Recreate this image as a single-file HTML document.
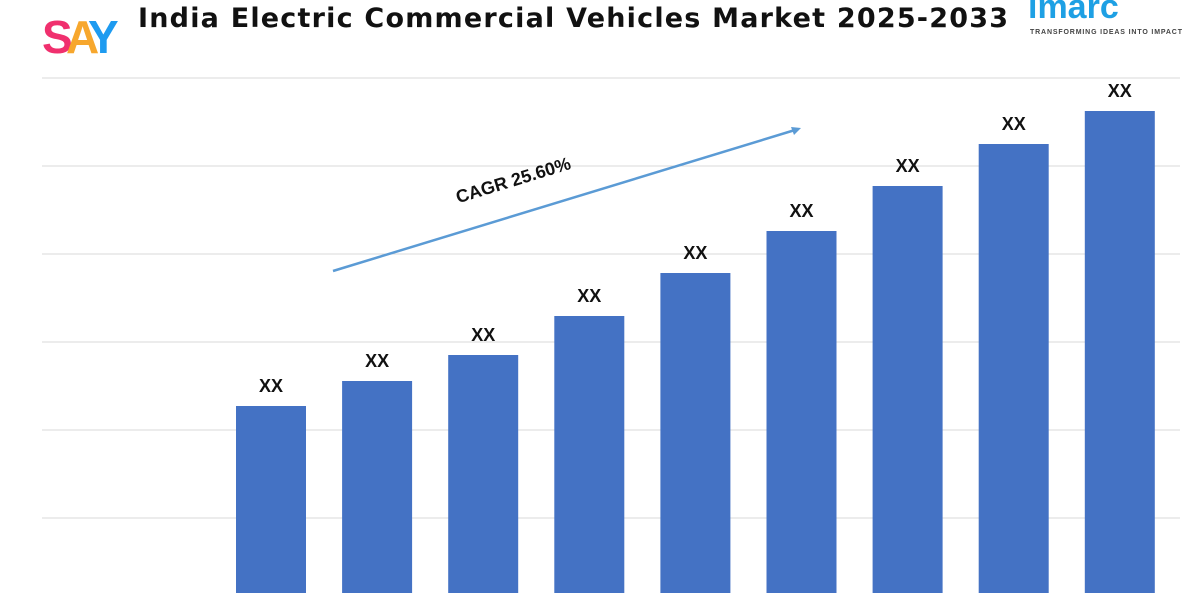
<!DOCTYPE html>
<html><head><meta charset="utf-8"><style>
body{margin:0;background:#fff;width:1200px;height:600px;overflow:hidden;font-family:"Liberation Sans",sans-serif}
</style></head><body>
<svg width="1200" height="600">
<text x="42" y="53" font-size="46" font-weight="bold" fill="#f0306e" font-family="Liberation Sans">S</text>
<text x="66" y="53" font-size="46" font-weight="bold" fill="#f7a72d" font-family="Liberation Sans">A</text>
<text x="88" y="53" font-size="46" font-weight="bold" fill="#1e9bf0" font-family="Liberation Sans">Y</text>
<text x="138" y="27" font-size="27" font-weight="bold" fill="#111" font-family="DejaVu Sans" textLength="870">India Electric Commercial Vehicles Market 2025-2033</text>
<text x="1028" y="18" font-size="34" font-weight="bold" fill="#1ea0e4">imarc</text>
<text x="1030" y="34" font-size="7" font-weight="bold" fill="#444" textLength="152">TRANSFORMING IDEAS INTO IMPACT</text>
<g id="grid"></g>
<g id="bars"></g>
<line x1="333" y1="271" x2="795" y2="130" stroke="#5b9bd5" stroke-width="2.5"/>
<polygon points="801,128 791,127 794,135" fill="#5b9bd5"/>
<text x="515" y="186" font-size="18" font-weight="bold" fill="#111" text-anchor="middle" transform="rotate(-17 515 186)">CAGR 25.60%</text>
</svg>
<script>
const categories=["2025","2026","2027","2028","2029","2030","2031","2032","2033"];
const values=[18.7,21.2,23.8,27.7,32.0,36.2,40.7,44.9,48.2];
const labels=["XX","XX","XX","XX","XX","XX","XX","XX","XX"];
const gridTicks=[7.5,16.3,25.1,33.9,42.7,51.5];
const NS="http://www.w3.org/2000/svg";
const base=593,scale=10,x0=236,step=106.1,bw=70;
const y=v=>base-v*scale;
const xs=i=>x0+i*step;
const g=document.getElementById('grid');
gridTicks.forEach(t=>{const l=document.createElementNS(NS,'line');
l.setAttribute('x1',42);l.setAttribute('x2',1180);l.setAttribute('y1',y(t));l.setAttribute('y2',y(t));
l.setAttribute('stroke','#d9d9d9');l.setAttribute('stroke-width','1');


g.appendChild(l);});
const b=document.getElementById('bars');
values.forEach((v,i)=>{const r=document.createElementNS(NS,'rect');
r.setAttribute('x',xs(i));r.setAttribute('y',y(v));r.setAttribute('width',bw);r.setAttribute('height',base-y(v));
r.setAttribute('fill','#4472c4');


b.appendChild(r);
const t=document.createElementNS(NS,'text');
t.setAttribute('x',xs(i)+bw/2);t.setAttribute('y',y(v)-14);t.setAttribute('text-anchor','middle');
t.setAttribute('font-size','18');t.setAttribute('font-weight','bold');t.setAttribute('fill','#111');
t.textContent=labels[i];


b.appendChild(t);});
</script>
</body></html>
